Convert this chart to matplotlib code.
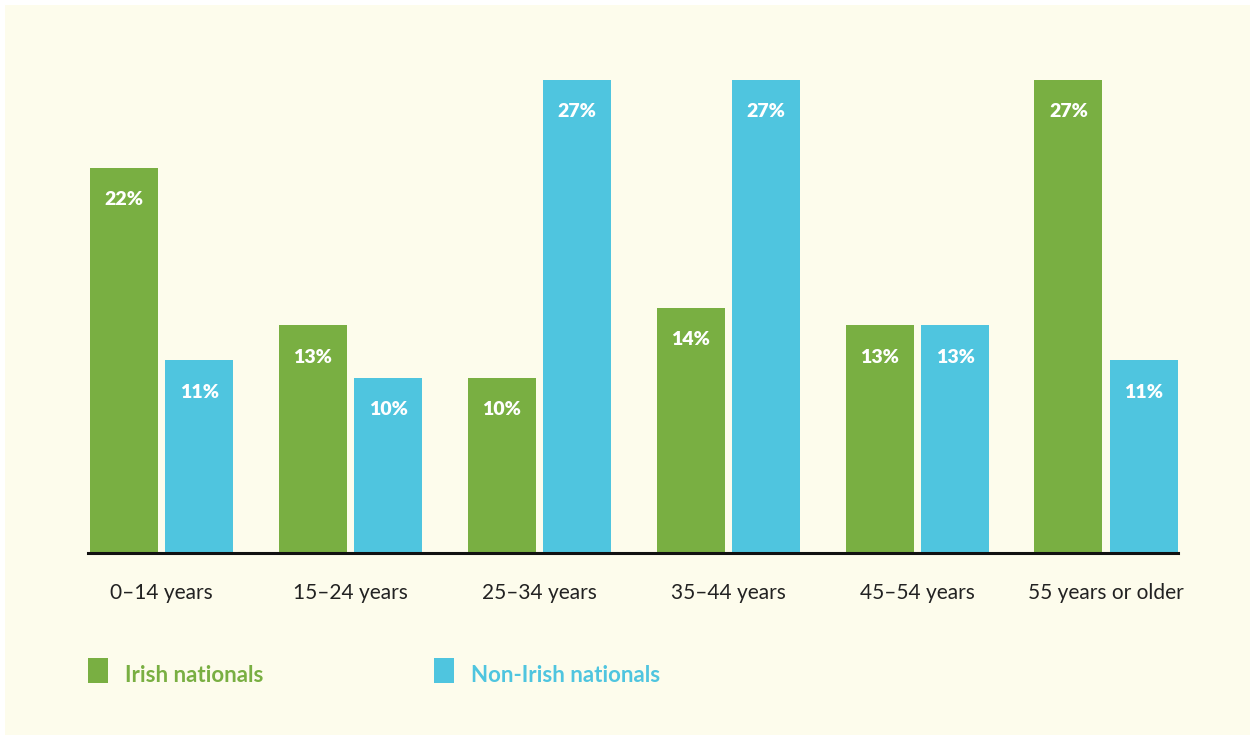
import numpy as np
import matplotlib.pyplot as plt
from matplotlib.patches import Rectangle

categories = ["0\u201314 years", "15\u201324 years", "25\u201334 years",
              "35\u201344 years", "45\u201354 years", "55 years or older"]
irish = [22, 13, 10, 14, 13, 27]
non_irish = [11, 10, 27, 27, 13, 11]
series_names = ["Irish nationals", "Non-Irish nationals"]

GREEN = "#79af42"
BLUE = "#4fc5df"
CREAM = "#fdfcec"

plt.rcParams['font.family'] = ['Lato', 'DejaVu Sans']

W, H = 1255, 738
fig = plt.figure(figsize=(W / 100, H / 100), dpi=100)
fig.patch.set_facecolor("white")
# cream panel inside a thin white border
fig.add_artist(Rectangle((5 / W, 3 / H), 1245 / W, 730 / H, transform=fig.transFigure,
                         facecolor=CREAM, edgecolor="none", zorder=0))

ax = fig.add_axes([88 / W, (H - 553) / H, (1178 - 88) / W, (553 - 60) / H])
ax.patch.set_alpha(0)

x = np.arange(len(categories))
w = 0.36
b1 = ax.bar(x - 0.2, irish, w, color=GREEN, zorder=2)
b2 = ax.bar(x + 0.2, non_irish, w, color=BLUE, zorder=2)

for bars, vals in [(b1, irish), (b2, non_irish)]:
    for r, v in zip(bars, vals):
        ax.annotate(f"{v}%", (r.get_x() + r.get_width() / 2, v),
                    xytext=(0, -23), textcoords="offset points",
                    ha="center", va="center", color="white",
                    fontsize=14, fontweight="heavy", zorder=3)

ax.set_xlim(-0.39, 5.38)
ax.set_ylim(0, 28.14)
ax.set_xticks(x)
ax.set_xticklabels(categories, fontsize=15, color="#222222")
ax.tick_params(axis="x", length=0, pad=21.5)
ax.set_yticks([])
for s in ["top", "right", "left"]:
    ax.spines[s].set_visible(False)
ax.spines["bottom"].set_linewidth(2.2)
ax.spines["bottom"].set_color("#111111")
ax.spines["bottom"].set_zorder(4)

# legend
for xs, col, name in [(88, GREEN, series_names[0]), (434, BLUE, series_names[1])]:
    fig.add_artist(Rectangle((xs / W, (H - 683) / H), 20 / W, 25 / H,
                             transform=fig.transFigure, facecolor=col, edgecolor="none"))
    fig.text((xs + 37) / W, (H - 676) / H, name, color=col, fontsize=16,
             fontweight="bold", va="center", ha="left")

fig.savefig("out.png", dpi=100, facecolor=fig.get_facecolor())
